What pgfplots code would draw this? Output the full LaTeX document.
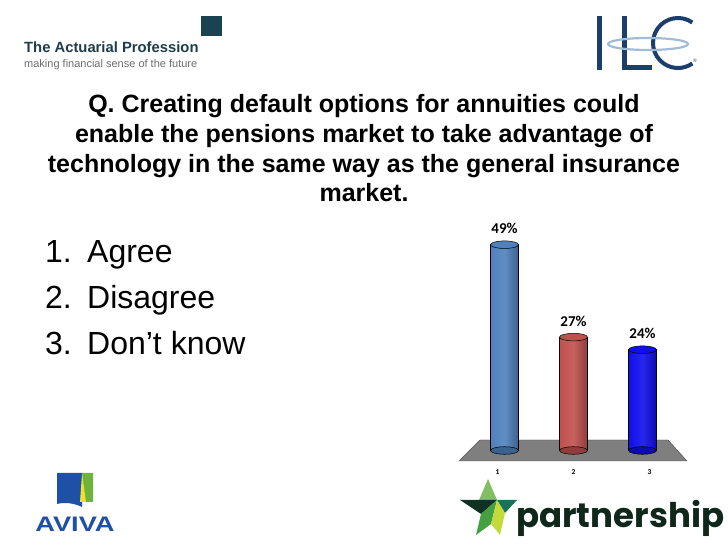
\documentclass[border=0pt]{standalone}
\usepackage{pgfplots}
\usepackage{pgfplotstable}
\pgfplotsset{compat=1.18}
\usetikzlibrary{calc}
\usepackage{fontspec}
\setmainfont{Liberation Sans}
\newfontfamily\calibri{Carlito}
\newfontfamily\poppins{Poppins}
\definecolor{acttext}{RGB}{30,61,75}
\definecolor{actsq}{RGB}{26,66,80}
\definecolor{actgray}{RGB}{110,110,110}
\definecolor{ilcnavy}{RGB}{28,62,110}
\definecolor{ilclight}{RGB}{160,188,215}
\definecolor{avivablue}{RGB}{30,80,165}
\definecolor{avivagreen}{RGB}{110,180,60}
\definecolor{avivayellow}{RGB}{240,225,40}
\definecolor{pdark}{RGB}{16,40,28}
\definecolor{stardark}{RGB}{15,50,35}
\definecolor{starteal}{RGB}{25,115,90}
\definecolor{starmid}{RGB}{70,160,65}
\definecolor{starlight}{RGB}{130,190,100}
\definecolor{staryel}{RGB}{195,218,60}
\definecolor{cA}{RGB}{79,129,189}
\definecolor{cB}{RGB}{192,80,77}
\definecolor{cC}{RGB}{15,15,235}
\definecolor{floorgray}{RGB}{127,127,127}
\pgfplotstableread{
x y b
1 49 0
}\tabA
\pgfplotstableread{
x y b
2 27 0
}\tabB
\pgfplotstableread{
x y b
3 24 0
}\tabC
\begin{document}
\begin{tikzpicture}
\path[use as bounding box] (0,0) rectangle (728pt,546pt);
\begin{scope}[x=1pt,y=-1pt,yshift=546pt]
% Actuarial Profession
\fill[actsq] (201,16) rectangle (222,36);
\node[anchor=base west, inner sep=0, font=\fontsize{14.8}{16}\selectfont\bfseries, text=acttext] at (24,53) {The Actuarial Profession};
\node[anchor=base west, inner sep=0, font=\fontsize{11}{13}\selectfont, text=actgray] at (24,68) {making financial sense of the future};
% ILC
\fill[ilcnavy] (597,16) rectangle (602,70);
\fill[ilcnavy] (622,16) rectangle (627,70);
\fill[ilcnavy] (622,65.5) rectangle (652,70);
\draw[ilcnavy, line width=4pt] (678,43) ++(55:25pt) arc[start angle=55, end angle=305, radius=25pt];
\draw[ilclight, line width=2.2pt] (648,44) ellipse[x radius=40pt, y radius=6pt];
\node[inner sep=0, font=\fontsize{5}{5}\selectfont, text=ilcnavy] at (695,61) {®};
% Title
\begin{scope}[every node/.style={anchor=base, inner sep=0, font=\fontsize{25}{30}\selectfont\bfseries}]
\node at (364,113) {Q. Creating default options for annuities could};
\node at (364,143) {enable the pensions market to take advantage of};
\node at (364,173) {technology in the same way as the general insurance};
\node at (364,202) {market.};
\end{scope}
% List
\begin{scope}[every node/.style={anchor=base west, inner sep=0, font=\fontsize{32}{38}\selectfont}]
\node at (45,263) {1.};
\node at (87,263) {Agree};
\node at (45,309) {2.};
\node at (87,309) {Disagree};
\node at (45,355) {3.};
\node at (87,355) {Don’t know};
\end{scope}
% AVIVA
\fill[avivablue] (57,473) -- (82,473) -- (82,507) .. controls (74,503) and (64,502) .. (57,504) -- cycle;
\fill[avivagreen] (82,473) -- (93,473) -- (93,502) -- (85,502) -- cycle;
\fill[avivayellow] (82,474) -- (86,502) -- (80,502) -- cycle;
\node[anchor=base, inner sep=0, font=\fontsize{21}{21}\selectfont\bfseries, text=avivablue] at (75,532) {\scalebox{1.3}[1]{AVIVA}};
% partnership star
\fill[starlight] (488,479) -- (479,500) -- (497,500) -- cycle;
\fill[stardark] (460,500) -- (497,500) -- (481,514) -- cycle;
\fill[starteal] (497,500) -- (517,500) -- (505,513) -- cycle;
\fill[starmid] (497,500) -- (481,514) -- (476,535) -- (491,524) -- cycle;
\fill[staryel] (497,500) -- (491,524) -- (500,535) -- (505,513) -- cycle;
\node[anchor=base west, inner sep=0, font=\poppins\bfseries\fontsize{34}{34}\selectfont, text=pdark] at (516,527) {partnership};
\end{scope}
% Chart
\begin{axis}[
  at={(456.2pt,82.9pt)}, anchor=south west,
  scale only axis, width=234.6pt, height=231pt,
  xmin=0.3, xmax=3.7, ymin=-3, ymax=52,
  clip=false,
  axis line style={draw=none},
  major tick length=0pt,
  ytick=\empty,
  xtick={0.9,2,3.1}, xticklabels={1,2,3},
  /pgf/number format/assume math mode=true,
  xticklabel style={font=\calibri\bfseries\fontsize{7.5}{8}\selectfont, anchor=center, yshift=-8.9pt},
  every node near coord/.append style={anchor=center, yshift=16pt, text=black, font=\calibri\bfseries\fontsize{15}{16}\selectfont},
]
% floor
\addplot[fill=floorgray, draw=black!70, line width=0.4pt] coordinates {(0.341,-2.5) (0.645,2.5) (3.37,2.5) (3.645,-2.5)} -- cycle;
% bar A
\addplot[only marks, mark=*, mark size=14pt, mark options={yscale=0.27, fill=cA!75!black, draw=black, line width=0.5pt}] table[x=x, y=b] {\tabA};
\addplot[ybar, bar width=28pt, bar shift=0pt, draw=black, line width=0.5pt, left color=cA, right color=cA!75!black, middle color=cA!90!white, point meta=y, nodes near coords={\pgfmathprintnumber{\pgfplotspointmeta}\%}] table[x=x, y=y] {\tabA};
\addplot[only marks, mark=*, mark size=14pt, mark options={yscale=0.27, fill=cA, draw=black, line width=0.5pt}] table[x=x, y=y] {\tabA};
% bar B
\addplot[only marks, mark=*, mark size=14pt, mark options={yscale=0.27, fill=cB!75!black, draw=black, line width=0.5pt}] table[x=x, y=b] {\tabB};
\addplot[ybar, bar width=28pt, bar shift=0pt, draw=black, line width=0.5pt, left color=cB, right color=cB!75!black, middle color=cB!90!white, point meta=y, nodes near coords={\pgfmathprintnumber{\pgfplotspointmeta}\%}] table[x=x, y=y] {\tabB};
\addplot[only marks, mark=*, mark size=14pt, mark options={yscale=0.27, fill=cB, draw=black, line width=0.5pt}] table[x=x, y=y] {\tabB};
% bar C
\addplot[only marks, mark=*, mark size=14pt, mark options={yscale=0.27, fill=cC!75!black, draw=black, line width=0.5pt}] table[x=x, y=b] {\tabC};
\addplot[ybar, bar width=28pt, bar shift=0pt, draw=black, line width=0.5pt, left color=cC, right color=cC!75!black, middle color=cC!90!white, point meta=y, nodes near coords={\pgfmathprintnumber{\pgfplotspointmeta}\%}] table[x=x, y=y] {\tabC};
\addplot[only marks, mark=*, mark size=14pt, mark options={yscale=0.27, fill=cC, draw=black, line width=0.5pt}] table[x=x, y=y] {\tabC};
\end{axis}
\end{tikzpicture}
\end{document}
